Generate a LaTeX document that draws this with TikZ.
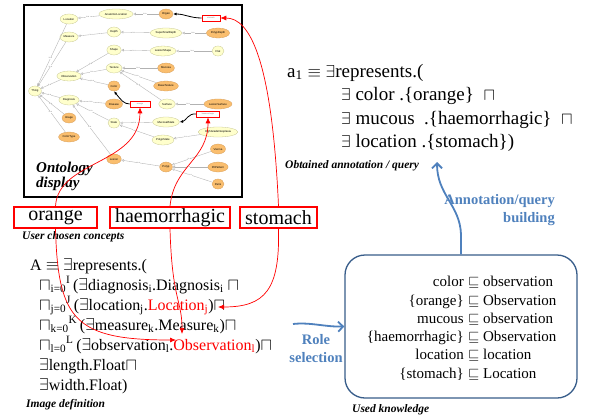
\documentclass[tikz,border=0pt]{standalone}
\usepackage{fontspec}
\setmainfont{Liberation Serif}
\setsansfont{Liberation Sans}
\usepackage{xcolor}
\usepackage{tikz}
\usetikzlibrary{positioning,shapes.geometric,arrows.meta,calc}

\definecolor{ontoyellow}{RGB}{255,255,204}
\definecolor{ontoyellowline}{RGB}{200,200,150}
\definecolor{ontoorange}{RGB}{250,190,110}
\definecolor{ontoorangeline}{RGB}{215,160,95}
\definecolor{roleblue}{RGB}{79,129,189}
\definecolor{kbline}{RGB}{56,93,138}

\tikzset{
    onto/.style={
        ellipse,
        draw,
        inner xsep=1pt,
        inner ysep=1.2pt,
        minimum width=12pt,
        minimum height=10pt,
        line width=0.3pt,
        font=\fontsize{2.8}{3}\sffamily\selectfont
    },
    yel/.style={onto, fill=ontoyellow, draw=ontoyellowline},
    ora/.style={onto, fill=ontoorange, draw=ontoorangeline},
    isa/.style={draw=gray!60, line width=0.35pt, -{Triangle[open,length=2.5pt,width=2.5pt]}},
    isalabel/.style={font=\fontsize{2}{2}\sffamily\selectfont, text=gray, fill=white, inner sep=0.2pt, pos=0.55},
    tag/.style={
        rectangle,
        draw=red,
        fill=white,
        line width=0.6pt,
        minimum height=6pt,
        inner sep=0pt,
        font=\fontsize{2}{2}\sffamily\selectfont,
        text=gray
    },
    pointer/.style={line width=0.8pt, -{Latex[length=3.5pt,width=3pt]}},
    wordbox/.style={
        rectangle,
        draw=red,
        line width=1.5pt,
        minimum height=21pt,
        inner sep=1pt,
        font=\fontsize{20}{20}\selectfont
    },
    link/.style={red, line width=0.7pt, -{Latex[length=6pt,width=5pt]}},
    caption/.style={font=\fontsize{11.5}{12}\selectfont\bfseries\itshape, anchor=base west, inner sep=0pt},
    deftext/.style={font=\fontsize{16}{20}\selectfont, anchor=base west, inner sep=0pt},
    anntext/.style={font=\fontsize{19}{23}\selectfont, anchor=base west, inner sep=0pt},
    kbtext/.style={font=\fontsize{15}{18}\selectfont, inner sep=0pt},
    bluelabel/.style={font=\fontsize{14.5}{18}\selectfont\bfseries, text=roleblue, inner sep=0pt},
    bluearrow/.style={roleblue, line width=1.8pt, -{Straight Barb[length=5pt,width=10pt]}}
}

\begin{document}
\begin{tikzpicture}[x=1pt,y=-1pt]
    \useasboundingbox (0,0) rectangle (592,418);
    \fill[white] (0,0) rectangle (592,418);

    % Riquadro dell'ontologia
    \draw[line width=2pt] (24,5) rectangle (242,197);

    % Nodi dell'ontologia
    \foreach \n/\x/\y/\s in {
        Thing/35/91/yel, Location/69/19/yel, AnatomicLocation/116/14/yel, Organ/166/14/ora,
        Measure/69/37/yel, Depth/114/32/yel, SuperficialDepth/166/33/yel, PolypDepth/218/33/ora,
        Shape/114/50/yel, LesionShape/163/51/yel, Flat/218/51/yel,
        Observation/69/76/yel, Texture/114/68/yel, Mucosa/166/68/ora, BaseTexture/166/86/ora,
        Color/114/86/ora, Diagnosis/69/100/yel, Disease/114/104/ora, Surface/167/104/yel,
        LesionSurface/218/104/ora, State/114/123/yel, MucosalState/166/122/yel,
        PolypState/163/140/yel, HighGradeNeoplasia/218/132/yel, Image/69/118/ora,
        ColorType/69/137/ora, Lesion/114/159/ora, Polyp/166/167/ora,
        Vienna/218/149/ora, PitPattern/218/167/ora, Paris/218/184/ora}
        \node[\s] (\n) at (\x,\y) {\n};

    % Relazioni is-a
    \foreach \c/\p in {
        Location/Thing, Measure/Thing, Observation/Thing, Diagnosis/Thing, Image/Thing, ColorType/Thing,
        AnatomicLocation/Location, Organ/AnatomicLocation, Depth/Measure, SuperficialDepth/Depth,
        PolypDepth/SuperficialDepth, Shape/Observation, Texture/Observation, Color/Observation,
        LesionShape/Shape, Flat/LesionShape, Mucosa/Texture, BaseTexture/Texture, Surface/Texture,
        LesionSurface/Surface, Disease/Diagnosis, State/Diagnosis, Lesion/Diagnosis,
        MucosalState/State, PolypState/State, HighGradeNeoplasia/PolypState,
        Polyp/Lesion, Vienna/Polyp, PitPattern/Polyp, Paris/Polyp}
        \draw[isa] (\c) -- node[isalabel] {is-a} (\p);

    % Etichette annotate nell'ontologia
    \node[tag, minimum width=18pt] (tStomach) at (211,18) {stomach};
    \node[tag, minimum width=20pt] (tOrange) at (140,104) {orange};
    \node[tag, minimum width=23pt] (tHaem) at (208,114) {haemorrhagic};
    \draw[pointer] (tStomach.west) .. controls (190,18) and (185,14) .. (Organ.east);
    \draw[pointer] (tOrange.west) .. controls (124,104) and (121,100) .. (Color.south);
    \draw[pointer] (tHaem.west) .. controls (188,113) and (186,121) .. (MucosalState.east);

    \node[font=\fontsize{15}{15}\selectfont\bfseries\itshape, anchor=base west, inner sep=0pt] (ontoTitle) at (36,172) {Ontology};
    \node[font=\fontsize{15}{15}\selectfont\bfseries\itshape, anchor=base west, inner sep=0pt] (ontoTitleB) at (36,187) {display};

    % Concetti scelti dall'utente
    \node[wordbox, minimum width=83pt] (wOrange) at (55.5,217.5) {orange};
    \node[wordbox, minimum width=120pt] (wHaem) at (170,217.5) {haemorrhagic};
    \node[wordbox, minimum width=77pt] (wStomach) at (278.5,217.5) {stomach};
    \node[caption] (capUser) at (22,239) {User chosen concepts};

    % Definizione dell'immagine
    \node[deftext] (def0) at (30,270) {A $\equiv$ $\exists$represents.(};
    \foreach \txt [count=\i] in {
        $\sqcap$\textsubscript{i=0}\textsuperscript{I}\,($\exists$diagnosis\textsubscript{i}.Diagnosis\textsubscript{i} $\sqcap$,
        $\sqcap$\textsubscript{j=0}\textsuperscript{J}\,($\exists$location\textsubscript{j}.\textcolor{red}{Location\textsubscript{j}})$\sqcap$,
        $\sqcap$\textsubscript{k=0}\textsuperscript{K}\,($\exists$measure\textsubscript{k}.Measure\textsubscript{k})$\sqcap$,
        $\sqcap$\textsubscript{l=0}\textsuperscript{L}\,($\exists$observation\textsubscript{l}.\textcolor{red}{Observation\textsubscript{l}})$\sqcap$,
        $\exists$length.Float$\sqcap$,
        $\exists$width.Float)}
        \node[deftext] (def\i) at (39,270+20*\i) {\txt};
    \node[caption] (capImage) at (26,407) {Image definition};

    % Frecce rosse
    \coordinate (locTip) at (218,307);
    \coordinate (obsTip) at (176,340);
    \coordinate (haemTip) at (182,334);
    \draw[link] (wOrange.north) .. controls (58,160) and (140,165) .. (tOrange.south);
    \draw[link] (wOrange.south) .. controls (58,320) and (75,340) .. (obsTip);
    \draw[link] (wHaem.north) .. controls (174,165) and (208,160) .. (tHaem.south);
    \draw[link] (wHaem.south) .. controls (172,300) and (182,300) .. (haemTip);
    \draw[link] (wStomach.north) .. controls (272,60) and (250,18) .. (tStomach.east);
    \draw[link] (wStomach.south) .. controls (280,290) and (265,307) .. (locTip);

    % Annotazione ottenuta
    \node[anntext] (ann0) at (287,77) {a\textsubscript{1} $\equiv$ $\exists$represents.(};
    \node[anntext] (ann1) at (341,100.5) {$\exists$ color .\{orange\}\ \ $\sqcap$};
    \node[anntext] (ann2) at (341,124) {$\exists$ mucous\ \ .\{haemorrhagic\}\ \ $\sqcap$};
    \node[anntext] (ann3) at (341,147) {$\exists$ location .\{stomach\})};
    \node[caption] (capAnn) at (285,168) {Obtained annotation / query};

    % Conoscenza usata
    \node[draw=kbline, line width=1.3pt, rounded corners=20pt, minimum width=232pt, minimum height=143pt] (kb) at (461,326.5) {};
    \foreach \l/\r [count=\i] in {
        color/observation, \{orange\}/Observation, mucous/observation,
        \{haemorrhagic\}/Observation, location/location, \{stomach\}/Location}
        {
        \node[kbtext, anchor=base east] (kbL\i) at (464,268.4+18.3*\i) {\l};
        \node[kbtext, anchor=base west] (kbR\i) at (468,268.4+18.3*\i) {$\sqsubseteq$ \r};
        }
    \node[caption] (capKb) at (352,412) {Used knowledge};

    % Frecce blu
    \coordinate (roleStart) at (293,324);
    \coordinate (annTip) at (437,162);
    \draw[bluearrow] (roleStart) .. controls (310,322) and (325,327) .. (kb.west);
    \draw[bluearrow] (kb.north) -- ++(0,-20) .. controls (460,205) and (437,195) .. (annTip);
    \node[bluelabel, align=center] (roleLbl) at (316,348.5) {Role\\selection};
    \node[bluelabel, align=right, anchor=east] (annLbl) at (555,210) {Annotation/query\\building};

\end{tikzpicture}
\end{document}
